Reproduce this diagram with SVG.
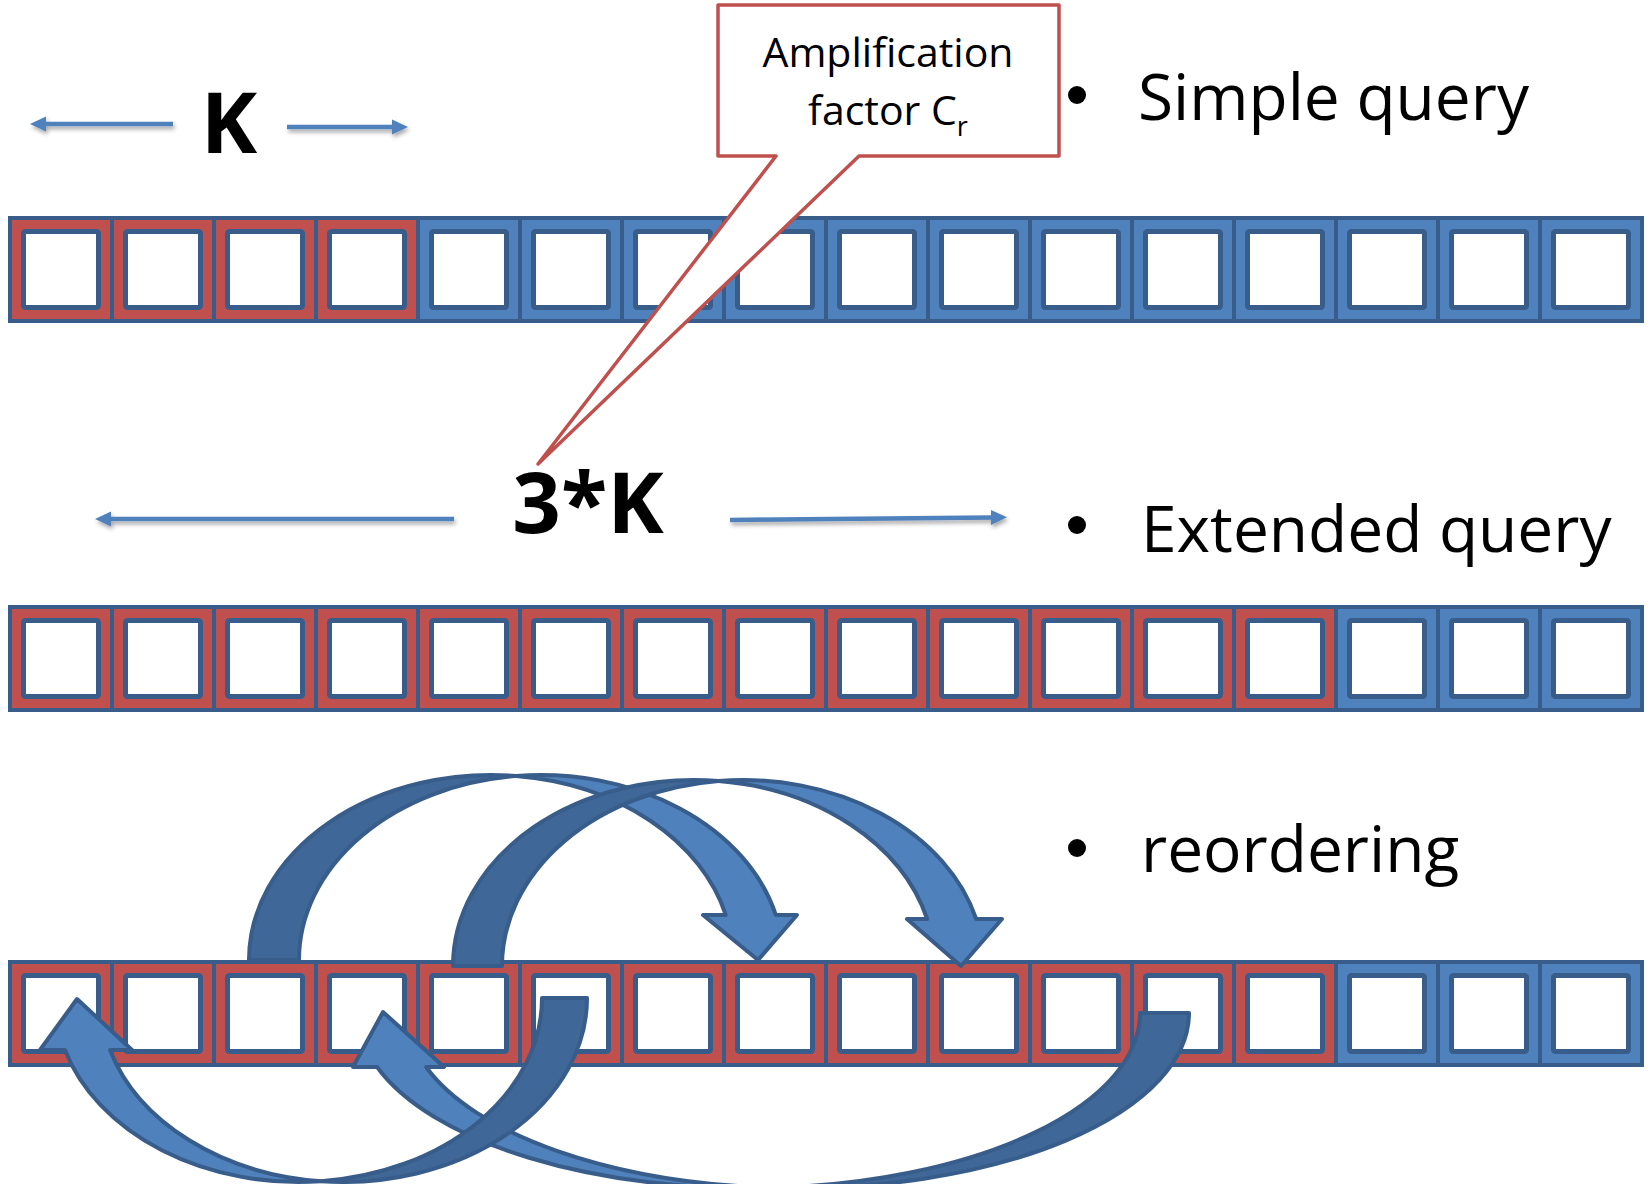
<svg xmlns="http://www.w3.org/2000/svg" xmlns:xlink="http://www.w3.org/1999/xlink" width="1648" height="1184" viewBox="0 0 1648 1184">
<style>
  .co { stroke: #385D8A; stroke-width: 4; }
  .red { fill: #C0504D; }
  .blue { fill: #4F81BD; }
  .ci { fill: #FFFFFF; stroke: #385D8A; stroke-width: 5; }
  .arr-dark { fill: #3F6797; stroke: #385D8A; stroke-width: 4; stroke-linejoin: round; }
  .arr-light { fill: #4F81BD; stroke: #385D8A; stroke-width: 4; stroke-linejoin: round; }
  .dim { stroke: #4F81BD; stroke-width: 4.5; fill: none; }
  .head { fill: #4F81BD; }
  .big { font-family: "Open Sans", "Liberation Sans", sans-serif; font-weight: bold; fill: #000; }
  .lbl { font-family: "Open Sans", "Liberation Sans", sans-serif; fill: #000; }
</style>
<defs>
  <g id="cr"><rect class="co red" width="102" height="103"/><rect class="ci" x="13.5" y="13.5" width="75" height="76" rx="2"/></g>
  <g id="cb"><rect class="co blue" width="102" height="103"/><rect class="ci" x="13.5" y="13.5" width="75" height="76" rx="2"/></g>
  <filter id="sh" x="-10%" y="-100%" width="120%" height="400%">
    <feDropShadow dx="1.5" dy="3" stdDeviation="2" flood-color="#000" flood-opacity="0.35"/>
  </filter>
</defs>
<rect width="1648" height="1184" fill="#FFFFFF"/>

<g id="row1">
  <use xlink:href="#cr" x="10" y="218"/><use xlink:href="#cr" x="112" y="218"/><use xlink:href="#cr" x="214" y="218"/><use xlink:href="#cr" x="316" y="218"/>
  <use xlink:href="#cb" x="418" y="218"/><use xlink:href="#cb" x="520" y="218"/><use xlink:href="#cb" x="622" y="218"/><use xlink:href="#cb" x="724" y="218"/>
  <use xlink:href="#cb" x="826" y="218"/><use xlink:href="#cb" x="928" y="218"/><use xlink:href="#cb" x="1030" y="218"/><use xlink:href="#cb" x="1132" y="218"/>
  <use xlink:href="#cb" x="1234" y="218"/><use xlink:href="#cb" x="1336" y="218"/><use xlink:href="#cb" x="1438" y="218"/><use xlink:href="#cb" x="1540" y="218"/>
</g>

<g id="row2">
  <use xlink:href="#cr" x="10" y="607"/><use xlink:href="#cr" x="112" y="607"/><use xlink:href="#cr" x="214" y="607"/><use xlink:href="#cr" x="316" y="607"/>
  <use xlink:href="#cr" x="418" y="607"/><use xlink:href="#cr" x="520" y="607"/><use xlink:href="#cr" x="622" y="607"/><use xlink:href="#cr" x="724" y="607"/>
  <use xlink:href="#cr" x="826" y="607"/><use xlink:href="#cr" x="928" y="607"/><use xlink:href="#cr" x="1030" y="607"/><use xlink:href="#cr" x="1132" y="607"/>
  <use xlink:href="#cr" x="1234" y="607"/><use xlink:href="#cb" x="1336" y="607"/><use xlink:href="#cb" x="1438" y="607"/><use xlink:href="#cb" x="1540" y="607"/>
</g>

<g id="row3">
  <use xlink:href="#cr" x="10" y="962"/><use xlink:href="#cr" x="112" y="962"/><use xlink:href="#cr" x="214" y="962"/><use xlink:href="#cr" x="316" y="962"/>
  <use xlink:href="#cr" x="418" y="962"/><use xlink:href="#cr" x="520" y="962"/><use xlink:href="#cr" x="622" y="962"/><use xlink:href="#cr" x="724" y="962"/>
  <use xlink:href="#cr" x="826" y="962"/><use xlink:href="#cr" x="928" y="962"/><use xlink:href="#cr" x="1030" y="962"/><use xlink:href="#cr" x="1132" y="962"/>
  <use xlink:href="#cr" x="1234" y="962"/><use xlink:href="#cb" x="1336" y="962"/><use xlink:href="#cb" x="1438" y="962"/><use xlink:href="#cb" x="1540" y="962"/>
</g>

<g id="label-K">
  <text class="big" x="229" y="153" font-size="85" text-anchor="middle">K</text>
</g>
<g id="label-3K">
  <text class="big" x="588" y="533" font-size="85" text-anchor="middle">3*K</text>
</g>

<g id="callout">
  <path d="M718,5 H1059 V156 H859 L538,464 L776,156 H718 Z" fill="#FFFFFF" stroke="#C0504D" stroke-width="3.5" stroke-linejoin="round"/>
  <text class="lbl" x="888" y="67" font-size="41" text-anchor="middle">Amplification</text>
  <text class="lbl" x="888" y="125" font-size="41" text-anchor="middle">factor C<tspan font-size="27" dy="11">r</tspan></text>
</g>

<g id="bullets">
  <circle cx="1077" cy="95" r="9"/>
  <text class="lbl" x="1138" y="120" font-size="64">Simple query</text>
  <circle cx="1077" cy="525" r="9"/>
  <text class="lbl" x="1141" y="552" font-size="64">Extended query</text>
  <circle cx="1077" cy="848" r="9"/>
  <text class="lbl" x="1141" y="872" font-size="64">reordering</text>
</g>

<g id="connectors">
  <g filter="url(#sh)">
    <line class="dim" x1="173" y1="124" x2="44" y2="124"/>
    <path class="head" d="M30,124 L46,116.5 L46,131.5 Z"/>
    <line class="dim" x1="287" y1="127" x2="394" y2="127"/>
    <path class="head" d="M408,127 L392,119.5 L392,134.5 Z"/>
    <line class="dim" x1="454" y1="519" x2="109" y2="519"/>
    <path class="head" d="M95,519 L111,511.5 L111,526.5 Z"/>
    <line class="dim" x1="730" y1="520" x2="993" y2="517.5"/>
    <path class="head" d="M1007,517.3 L991,510 L991,525 Z"/>
  </g>

  <g id="arrow-A">
    <path class="arr-dark" d="M249,960 A242,185 0 0 1 516,776 A242,185 0 0 0 299,960 Z"/>
    <path class="arr-light" d="M516,776 A242,185 0 0 1 775.8,915 L797,915 L758,960 L703,915 L725.8,915 A242,185 0 0 0 516,776 Z"/>
  </g>
  <g id="arrow-B">
    <path class="arr-dark" d="M453,966 A241,186 0 0 1 718.5,781 A241,186 0 0 0 502,966 Z"/>
    <path class="arr-light" d="M718.5,781 A241,186 0 0 1 976.2,919 L1002,919 L961,966 L907,919 L927.2,919 A241,186 0 0 0 718.5,781 Z"/>
  </g>
  <g id="arrow-D">
    <path class="arr-dark" d="M1189,1013 A391,175 0 0 1 773.5,1187.7 A391,175 0 0 0 1140,1013 Z"/>
    <path class="arr-light" d="M773.5,1187.7 A391,175 0 0 1 377.1,1067 L353,1067 L383,1012 L444,1067 L426.1,1067 A391,175 0 0 0 773.5,1187.7 Z"/>
  </g>
  <g id="arrow-C">
    <path class="arr-dark" d="M587,998 A243.5,184 0 0 1 321,1181.2 A243.5,184 0 0 0 542,998 Z"/>
    <path class="arr-light" d="M321,1181.2 A243.5,184 0 0 1 65,1050 L40,1050 L77,999 L132,1050 L110,1050 A243.5,184 0 0 0 321,1181.2 Z"/>
  </g>
</g>
</svg>
